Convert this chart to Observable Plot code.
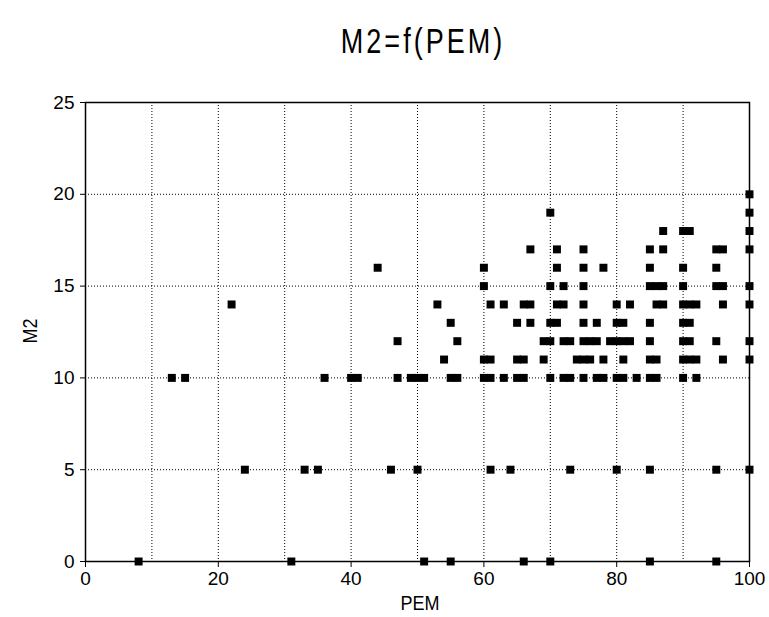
<!DOCTYPE html>
<html>
<head>
<meta charset="utf-8">
<script src="https://cdn.jsdelivr.net/npm/d3@7"></script>
<script src="https://cdn.jsdelivr.net/npm/@observablehq/plot@0.6"></script>
<style>
  body { margin: 0; background: #fff; }
  #wrap { position: relative; width: 769px; height: 617px; font-family: "Liberation Sans", Arial, sans-serif; color: #000; background:#fff; }
  #chart { position: absolute; left: 0; top: 0; }
  #title { position: absolute; left: 423px; top: 24px; transform: translateX(-50%) scale(1, 1.3); transform-origin: 50% 0; font-size: 27px; letter-spacing: 3px; white-space: nowrap; line-height: 1; }
  #xlabel { position: absolute; left: 420px; top: 594px; transform: translateX(-50%) scale(1, 1.15); font-size: 18px; line-height: 1; }
  #ylabel { position: absolute; left: 30px; top: 331px; transform: translate(-50%, -50%) rotate(-90deg) scale(1, 1.1); font-size: 18px; line-height: 1; }
</style>
</head>
<body>
<div id="wrap">
  <div id="chart"></div>
  <div id="title">M2=f(PEM)</div>
  <div id="xlabel">PEM</div>
  <div id="ylabel">M2</div>
</div>
<script>
const pemAtM2_0  = [8, 31, 51, 55, 66, 70, 85, 95];
const pemAtM2_5  = [24, 33, 35, 46, 50, 61, 64, 73, 80, 85, 95, 100];
const pemAtM2_10 = [13, 15, 36, 40, 41, 47, 49, 50, 51, 55, 56, 60, 61, 63, 65, 66, 70, 72, 73, 75, 77, 78, 80, 81, 83, 85, 86, 90, 92];
const pemAtM2_11 = [54, 60, 61, 65, 66, 69, 74, 75, 76, 78, 81, 85, 86, 90, 91, 92, 96, 100];
const pemAtM2_12 = [47, 56, 69, 70, 72, 73, 75, 76, 77, 79, 80, 81, 82, 85, 90, 91, 95, 100];
const pemAtM2_13 = [55, 65, 67, 70, 71, 75, 77, 80, 81, 85, 90, 91];
const pemAtM2_14 = [22, 53, 61, 63, 66, 67, 71, 72, 75, 80, 82, 86, 87, 90, 91, 92, 96, 100];
const pemAtM2_15 = [60, 70, 72, 75, 85, 86, 87, 90, 95, 96, 100];
const pemAtM2_16 = [44, 60, 71, 75, 78, 85, 90, 95];
const pemAtM2_17 = [67, 71, 75, 85, 87, 95, 96, 100];
const pemAtM2_18 = [87, 90, 91, 100];
const pemAtM2_19 = [70, 100];
const pemAtM2_20 = [100];

const m2Levels = [0, 5, 10, 11, 12, 13, 14, 15, 16, 17, 18, 19, 20];
const pemLists = [pemAtM2_0, pemAtM2_5, pemAtM2_10, pemAtM2_11, pemAtM2_12, pemAtM2_13,
                  pemAtM2_14, pemAtM2_15, pemAtM2_16, pemAtM2_17, pemAtM2_18, pemAtM2_19, pemAtM2_20];

const xTicks = [0, 20, 40, 60, 80, 100];
const xGrid = [10, 20, 30, 40, 50, 60, 70, 80, 90];
const yTicks = [0, 5, 10, 15, 20, 25];
const yGrid = [5, 10, 15, 20];

const points = [];
m2Levels.forEach((m2, i) => pemLists[i].forEach(pem => points.push({pem, m2})));

const chart = Plot.plot({
  width: 769,
  height: 617,
  marginLeft: 85,
  marginRight: 20,
  marginTop: 102,
  marginBottom: 56,
  style: { fontFamily: "'Liberation Sans', Arial, sans-serif", fontSize: "19px", color: "#000", background: "transparent" },
  x: { domain: [0, 100] },
  y: { domain: [0, 25] },
  marks: [
    Plot.ruleX(xGrid, { stroke: "#000", strokeWidth: 1, strokeDasharray: "1,2" }),
    Plot.ruleY(yGrid, { stroke: "#000", strokeWidth: 1, strokeDasharray: "1,2" }),
    Plot.frame({ stroke: "#000", strokeWidth: 1.5 }),
    Plot.axisX({ ticks: xTicks, tickSize: 6, tickPadding: 4, label: null, tickFormat: d => String(d) }),
    Plot.axisY({ ticks: yTicks, tickSize: 5, tickPadding: 6, label: null, tickFormat: d => String(d) }),
    Plot.dot(points, { x: "pem", y: "m2", symbol: "square", r: 4.5, fill: "#000", stroke: "none" })
  ]
});
document.getElementById("chart").appendChild(chart);
</script>
</body>
</html>
